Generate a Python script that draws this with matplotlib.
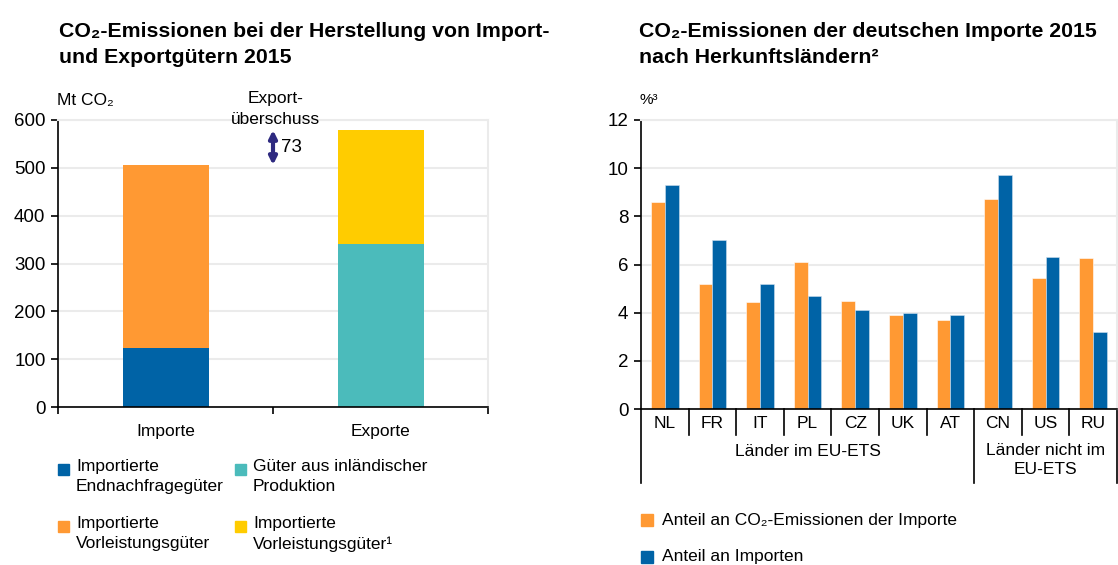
import matplotlib
matplotlib.use("Agg")
import matplotlib.pyplot as plt
import matplotlib.transforms as mtrans
from matplotlib.patches import Rectangle

plt.rcParams['font.family'] = ['Liberation Sans', 'DejaVu Sans']

# left chart data (Mt CO2)
groups = ['Importe', 'Exporte']
endnachfrage = [124, 0]
vorleistung_imp = [382, 0]
inland = [0, 341]
vorleistung_exp = [0, 238]
surplus = 73

# right chart data (%)
countries = ['NL', 'FR', 'IT', 'PL', 'CZ', 'UK', 'AT', 'CN', 'US', 'RU']
anteil_co2 = [8.6, 5.2, 4.45, 6.1, 4.5, 3.9, 3.7, 8.7, 5.45, 6.25]
anteil_importe = [9.3, 7.0, 5.2, 4.7, 4.1, 4.0, 3.9, 9.7, 6.3, 3.2]
n_eu = 7

BLUE = '#0063a6'
ORANGE = '#ff9933'
TEAL = '#4bbbbb'
YELLOW = '#ffcc00'
GRID = '#ebebeb'

FS = 12.5      # body text
FS_TICK = 13.5
FS_TITLE = 15.3

W, H = 1118, 565
fig = plt.figure(figsize=(W / 100, H / 100), dpi=100)


def px_axes(x0, y0, x1, y1):
    return fig.add_axes([x0 / W, 1 - y1 / H, (x1 - x0) / W, (y1 - y0) / H])


def style_axes(ax):
    ax.yaxis.grid(True, color=GRID, lw=1.5, zorder=0)
    ax.tick_params(axis='y', length=5, width=1.2, labelsize=FS_TICK, pad=4)
    for s in ['top', 'right']:
        ax.spines[s].set_color(GRID)
        ax.spines[s].set_linewidth(1.5)
    ax.spines['left'].set_linewidth(1.2)
    ax.spines['bottom'].set_linewidth(1.2)


# ---------- left chart ----------
ax1 = px_axes(58, 120, 488, 407)
x = [0, 1]
bw = 0.4
ax1.bar(x, endnachfrage, bw, color=BLUE, zorder=2)
ax1.bar(x, vorleistung_imp, bw, bottom=endnachfrage, color=ORANGE, zorder=2)
ax1.bar(x, inland, bw, color=TEAL, zorder=2)
ax1.bar(x, vorleistung_exp, bw, bottom=inland, color=YELLOW, zorder=2)
ax1.set_xlim(-0.5, 1.5)
ax1.set_ylim(0, 600)
ax1.set_yticks(range(0, 601, 100))
ax1.set_xticks([-0.5, 0.5, 1.5])
ax1.set_xticklabels([])
ax1.set_xticks(x, minor=True)
ax1.set_xticklabels(groups, minor=True, fontsize=FS)
ax1.tick_params(axis='x', which='minor', length=0, pad=12)
ax1.tick_params(axis='x', which='major', length=5, width=1.2, direction='out')
style_axes(ax1)

# arrow showing the export surplus
imp_total = endnachfrage[0] + vorleistung_imp[0]
ax1.annotate('', xy=(0.5, imp_total + surplus), xytext=(0.5, imp_total),
             arrowprops=dict(arrowstyle='<|-|>', color='#2e2a80', lw=3,
                             mutation_scale=11, shrinkA=0, shrinkB=0))
ax1.text(0.535, imp_total + surplus / 2, str(surplus), fontsize=FS_TICK, va='center', ha='left')
ax1.text(0.51, 622, 'Export-\nüberschuss', fontsize=FS, ha='center', va='center',
         linespacing=1.5, clip_on=False)
fig.text(57 / W, 1 - 100 / H, 'Mt CO₂', fontsize=FS, va='center')

fig.text(59 / W, 1 - 37 / H, 'CO₂-Emissionen bei der Herstellung von Import-',
         fontsize=FS_TITLE, fontweight='bold', va='baseline')
fig.text(59 / W, 1 - 63 / H, 'und Exportgütern 2015', fontsize=FS_TITLE,
         fontweight='bold', va='baseline')

# left legend
leg_items = [
    (BLUE, 'Importierte\nEndnachfragegüter', 58, 469),
    (TEAL, 'Güter aus inländischer\nProduktion', 235, 469),
    (ORANGE, 'Importierte\nVorleistungsgüter', 58, 526),
    (YELLOW, 'Importierte\nVorleistungsgüter¹', 235, 526),
]
for col, lab, lx, ly in leg_items:
    fig.patches.append(Rectangle((lx / W, 1 - (ly + 6) / H), 11 / W, 11 / H,
                                 transform=fig.transFigure, color=col))
    fig.text((lx + 18) / W, 1 - (ly - 10) / H, lab, fontsize=FS, va='top', linespacing=1.45)

# ---------- right chart ----------
ax2 = px_axes(641, 120, 1117, 409)
pos = list(range(len(countries)))
bw2 = 0.29
ax2.bar([p - bw2 / 2 for p in pos], anteil_co2, bw2, color=ORANGE, zorder=2,
        edgecolor='white', linewidth=0.4)
ax2.bar([p + bw2 / 2 for p in pos], anteil_importe, bw2, color=BLUE, zorder=2,
        edgecolor='#cfe0ee', linewidth=0.4)
ax2.set_xlim(-0.5, len(countries) - 0.5)
ax2.set_ylim(0, 12)
ax2.set_yticks(range(0, 13, 2))
ax2.set_xticks(pos)
ax2.set_xticklabels(countries, fontsize=FS)
ax2.tick_params(axis='x', length=0, pad=5)
style_axes(ax2)

# category separators and group labels below the axis
tr = mtrans.blended_transform_factory(ax2.transData, ax2.transAxes)
ax_h = 289
for b in range(len(countries) + 1):
    xb = b - 0.5
    depth = 74 if b in (0, n_eu, len(countries)) else 26
    ax2.plot([xb, xb], [0, -depth / ax_h], transform=tr, color='black', lw=1.2,
             clip_on=False)
ax2.text((n_eu - 1) / 2, -43 / ax_h, 'Länder im EU-ETS', transform=tr, fontsize=FS,
         ha='center', va='center')
ax2.text((n_eu + len(countries) - 1) / 2, -34 / ax_h, 'Länder nicht im\nEU-ETS', transform=tr,
         fontsize=FS, ha='center', va='top', linespacing=1.35)
fig.text(640 / W, 1 - 100 / H, '%³', fontsize=11, va='center')

fig.text(639 / W, 1 - 37 / H, 'CO₂-Emissionen der deutschen Importe 2015', fontsize=FS_TITLE,
         fontweight='bold', va='baseline')
fig.text(639 / W, 1 - 63 / H, 'nach Herkunftsländern²', fontsize=FS_TITLE, fontweight='bold',
         va='baseline')

for col, lab, ly in [(ORANGE, 'Anteil an CO₂-Emissionen der Importe', 520),
                     (BLUE, 'Anteil an Importen', 557)]:
    fig.patches.append(Rectangle((641 / W, 1 - (ly + 6) / H), 12 / W, 12 / H,
                                 transform=fig.transFigure, color=col))
    fig.text(662 / W, 1 - ly / H, lab, fontsize=FS, va='center')

fig.savefig('out.png', dpi=100)
